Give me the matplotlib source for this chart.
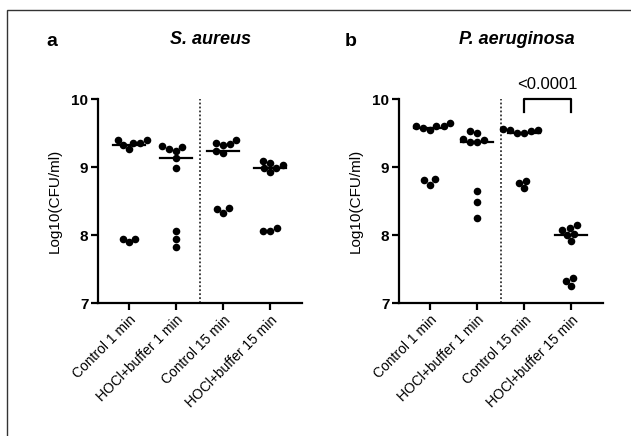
import numpy as np
import matplotlib
matplotlib.use("Agg")
import matplotlib.pyplot as plt
from matplotlib.patches import Rectangle

plt.rcParams['font.family'] = ['Liberation Sans', 'DejaVu Sans']

groups = ["Control 1 min", "HOCl+buffer 1 min", "Control 15 min", "HOCl+buffer 15 min"]

# S. aureus, Log10(CFU/ml)
sa_ctrl1 = [7.89, 7.94, 7.94, 9.26, 9.33, 9.35, 9.35, 9.40, 9.40]
sa_hocl1 = [7.83, 7.94, 8.06, 8.98, 9.13, 9.24, 9.26, 9.29, 9.31]
sa_ctrl15 = [8.33, 8.38, 8.40, 9.21, 9.24, 9.32, 9.34, 9.36, 9.40]
sa_hocl15 = [8.06, 8.06, 8.10, 8.93, 8.98, 8.99, 9.03, 9.06, 9.09]

# P. aeruginosa, Log10(CFU/ml)
pa_ctrl1 = [8.74, 8.81, 8.82, 9.55, 9.58, 9.60, 9.60, 9.61, 9.65]
pa_hocl1 = [8.25, 8.48, 8.64, 9.37, 9.37, 9.40, 9.41, 9.50, 9.53]
pa_ctrl15 = [8.69, 8.77, 8.80, 9.50, 9.50, 9.53, 9.54, 9.55, 9.56]
pa_hocl15 = [7.25, 7.33, 7.37, 7.91, 8.00, 8.02, 8.07, 8.11, 8.14]

p_label = "<0.0001"

W, H = 631, 436
fig = plt.figure(figsize=(W / 100, H / 100), dpi=100)

# frame around the figure
fig.add_artist(Rectangle((7 / W, -0.1), 1.2, 1.1 - 10 / H, transform=fig.transFigure,
                         fill=False, lw=1.0, ec="#333333"))

XPX, YPX = 47.0, 68.0   # pixels per category / per log unit
DOT = 7.3               # minimum distance between dot centres, px


def swarm(values):
    # simple beeswarm: place each point as close to the centre as possible
    vals = np.asarray(values, dtype=float)
    order = np.argsort(vals)
    placed = []
    offs = np.zeros(len(vals))
    for i in order:
        y = vals[i] * YPX
        cands = [0.0]
        for (px, py) in placed:
            dy = abs(py - y)
            if dy < DOT:
                dx = np.sqrt(DOT ** 2 - dy ** 2)
                cands += [px + dx, px - dx]
        cands.sort(key=lambda c: (abs(c), c))
        for c in cands:
            if all((c - px) ** 2 + (y - py) ** 2 >= DOT ** 2 - 1e-6 for (px, py) in placed):
                break
        placed.append((c, y))
        offs[i] = c / XPX
    return offs


def panel(rect, data, title, letter, letter_x, title_x):
    ax = fig.add_axes(rect)
    for k, vals in enumerate(data):
        x0 = k + 1
        ax.scatter(x0 + swarm(vals), vals, s=30, color="black", zorder=3, linewidths=0)
        med = np.median(vals)
        ax.plot([x0 - 0.34, x0 + 0.34], [med, med], color="black", lw=1.6, zorder=2)
    ax.axvline(2.5, color="#333333", lw=1.3, ls=(0, (1, 1.2)))
    ax.set_xlim(0.34, 4.68)
    ax.set_ylim(7, 10)
    ax.set_yticks([7, 8, 9, 10])
    ax.set_yticklabels(["7", "8", "9", "10"], fontweight="bold", fontsize=11)
    ax.set_xticks([1, 2, 3, 4])
    ax.set_xticklabels(groups, rotation=45, ha="right", rotation_mode="anchor", fontsize=10)
    for s in ["top", "right"]:
        ax.spines[s].set_visible(False)
    for s in ["left", "bottom"]:
        ax.spines[s].set_linewidth(1.6)
    ax.tick_params(width=1.6, length=5, pad=2)
    ax.set_ylabel("Log10(CFU/ml)", fontsize=11, labelpad=7)
    fig.text(letter_x / W, 1 - 42 / H, letter, fontsize=14, fontweight="bold", ha="center", va="center")
    fig.text(title_x / W, 1 - 40 / H, title, fontsize=13, fontweight="bold", fontstyle="italic",
             ha="center", va="center")
    return ax


ax1 = panel([98 / W, 1 - 303 / H, 204 / W, 204 / H],
            [sa_ctrl1, sa_hocl1, sa_ctrl15, sa_hocl15], "S. aureus", "a", 52, 210)
ax2 = panel([399 / W, 1 - 303 / H, 204 / W, 204 / H],
            [pa_ctrl1, pa_hocl1, pa_ctrl15, pa_hocl15], "P. aeruginosa", "b", 351, 517)

# significance bracket
ax2.plot([3, 3, 4, 4], [9.81, 10.0, 10.0, 9.81], color="black", lw=1.6, clip_on=False)
ax2.text(3.5, 10.1, p_label, ha="center", va="bottom", fontsize=12)

fig.savefig("out.png", dpi=100)
